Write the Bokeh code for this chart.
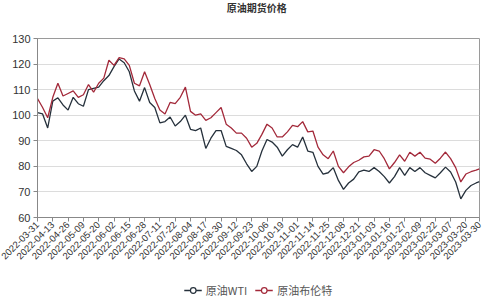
import math
from bokeh.plotting import figure
from bokeh.layouts import column
from bokeh.models import FixedTicker, Legend, LegendItem
from bokeh.core.properties import value
from bokeh.embed import file_html
from bokeh.resources import INLINE

# ---- data ----
title_text = "原油期货价格"
tick_labels = ["2022-03-31", "2022-04-13", "2022-04-26", "2022-05-09", "2022-05-20",
               "2022-06-02", "2022-06-15", "2022-06-28", "2022-07-11", "2022-07-22",
               "2022-08-04", "2022-08-17", "2022-08-30", "2022-09-12", "2022-09-23",
               "2022-10-06", "2022-10-19", "2022-11-01", "2022-11-14", "2022-11-25",
               "2022-12-08", "2022-12-21", "2023-01-03", "2023-01-16", "2023-01-27",
               "2023-02-09", "2023-02-22", "2023-03-07", "2023-03-20", "2023-03-30"]
tick_days = [0, 9, 18, 27, 36, 45, 54, 63, 72, 81, 90, 99, 108, 117, 126, 135, 144, 153,
             162, 171, 180, 189, 198, 207, 216, 225, 234, 243, 252, 260]

days = [0, 3, 6, 9, 12, 15, 18, 21, 24, 27, 30, 33, 36, 39, 42, 45, 48, 51, 54, 57,
        60, 63, 66, 69, 72, 75, 78, 81, 84, 87, 90, 93, 96, 99, 102, 105, 108, 111, 114, 117,
        120, 123, 126, 129, 132, 135, 138, 141, 144, 147, 150, 153, 156, 159, 162, 165, 168, 171, 174, 177,
        180, 183, 186, 189, 192, 195, 198, 201, 204, 207, 210, 213, 216, 219, 222, 225, 228, 231, 234, 237,
        240, 243, 246, 249, 252, 255, 258, 260]

brent = [106.5, 103, 99, 107, 112.5, 107.5, 108.5, 109.5, 107, 108,
         112, 109, 112.5, 114.5, 121.5, 119.5, 122.5, 122, 119.5, 112.5,
         111.5, 117, 112, 106.5, 102, 100.5, 105, 104.5, 107, 111,
         101.5, 100, 100.5, 98, 99, 101, 103, 96.5, 95, 93,
         93, 91, 87.5, 89, 92.5, 96.5, 95, 91.5, 91.5, 93.5,
         96, 95.5, 97.5, 93.5, 93.8, 87.5, 84.5, 83, 86, 80,
         77.5, 79.8, 81.5, 82.4, 83.7, 84, 86.5, 86, 83, 79,
         81.5, 84.5, 82, 85.5, 84, 85.5, 83.2, 82.8, 81.2, 83.2,
         85.6, 83, 79.5, 73.9, 77, 77.9, 78.5, 79]

wti = [101, 100.5, 95, 105.5, 106.8, 104, 102, 107, 104.5, 103.5,
       110, 110.5, 111, 113.5, 115.5, 119, 122, 120.5, 117, 109.5,
       105.5, 110.8, 105, 103, 97, 97.5, 99.3, 95.8, 97.5, 100,
       94.5, 94, 95, 87, 91, 94, 94, 87.8, 87, 86.2,
       84.5, 81, 78, 80, 86, 90.5, 89.5, 87.5, 84, 86.5,
       88.5, 87.5, 91.5, 86, 85.5, 80, 77, 77.5, 79.5, 74.5,
       71, 73.5, 75, 77.8, 78.5, 78, 79.5, 78, 76, 73.5,
       76, 79.5, 76.5, 79.5, 78, 79.5, 77.5, 76.5, 75.5, 77.5,
       79.7, 77.8, 73.9, 67.3, 70.6, 72.5, 73.5, 74]

series_names = ["原油WTI", "原油布伦特"]
series_values = [wti, brent]
colors = ["#26313c", "#a3293a"]

# ---- title strip ----
tt = figure(width=500, height=18, output_backend="svg", toolbar_location=None,
            min_border=0, x_range=(0, 500), y_range=(0, 18))
tt.axis.visible = False
tt.grid.visible = False
tt.outline_line_color = None
tt.text(x=[248], y=[11], text=[title_text], text_align="center", text_baseline="middle",
        text_font=value("Noto Sans CJK SC"), text_font_size="10px", text_font_style="bold",
        text_color="#333333")

# ---- main figure ----
p = figure(width=500, height=262, output_backend="svg", toolbar_location=None,
           x_range=(0, 260), y_range=(60, 130),
           min_border_left=37, min_border_right=21, min_border_top=20, min_border_bottom=63)
p.background_fill_color = "white"
p.border_fill_color = "white"
p.outline_line_color = "#9a9a9a"

for vals, c in zip(series_values, colors):
    p.line(days, vals, line_color=c, line_width=1.3)

p.xgrid.visible = False
p.ygrid.grid_line_color = "#dcdcdc"
p.yaxis.ticker = FixedTicker(ticks=[60, 70, 80, 90, 100, 110, 120, 130])
p.xaxis.ticker = FixedTicker(ticks=tick_days)
p.xaxis.major_label_overrides = {d: lab for d, lab in zip(tick_days, tick_labels)}
p.xaxis.major_label_orientation = math.pi / 4
for ax in (p.xaxis[0], p.yaxis[0]):
    ax.axis_line_color = "#888888"
    ax.major_tick_line_color = "#888888"
    ax.major_tick_out = 4
    ax.major_tick_in = 0
    ax.minor_tick_line_color = None
    ax.major_label_text_color = "#333333"
    ax.major_label_text_font = "Liberation Sans"
p.yaxis.major_label_text_font_size = "11px"
p.xaxis.major_label_text_font_size = "9.5px"
p.yaxis.major_label_standoff = 3
p.xaxis.major_label_standoff = 2

# ---- legend strip (its glyphs use the series data, which lies outside this strip's ranges) ----
lg = figure(width=500, height=20, output_backend="svg", toolbar_location=None,
            min_border=0, x_range=(0, 1), y_range=(0, 1))
lg.axis.visible = False
lg.grid.visible = False
lg.outline_line_color = None
items = []
for name, vals, c in zip(series_names, series_values, colors):
    rl = lg.line(days, vals, line_color=c, line_width=1.3)
    rm = lg.scatter(days, vals, marker="circle", size=7, fill_color="white", line_color=c, line_width=1.2)
    items.append(LegendItem(label=name, renderers=[rl, rm]))
legend = Legend(items=items, orientation="horizontal", location="center")
legend.border_line_color = None
legend.background_fill_alpha = 0
legend.label_text_font = "Noto Sans CJK SC"
legend.label_text_font_size = "11px"
legend.label_text_color = "#555555"
legend.glyph_width = 18
legend.glyph_height = 14
legend.spacing = 8
legend.padding = 0
legend.margin = 0
legend.label_standoff = 4
legend.label_height = 14
lg.add_layout(legend)

layout = column(tt, p, lg, spacing=0)
open("out.html", "w").write(file_html(layout, INLINE))
